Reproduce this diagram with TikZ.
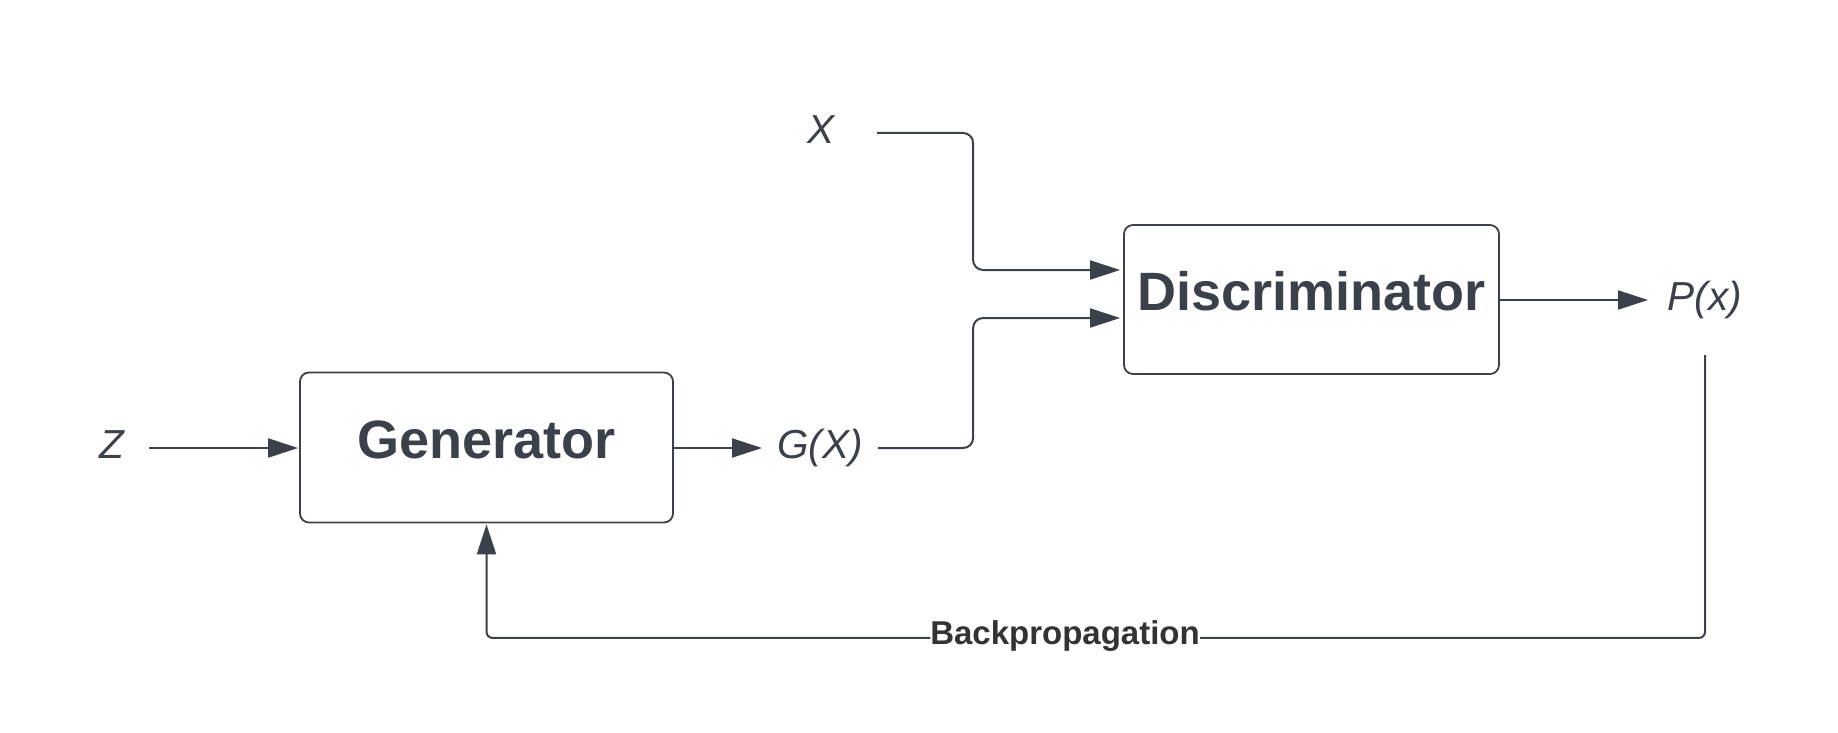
\documentclass[tikz,border=0pt]{standalone}
\usepackage{fontspec}
\setmainfont{Liberation Sans}
\usetikzlibrary{arrows.meta}
\definecolor{ink}{HTML}{3A414A}
\definecolor{bptext}{HTML}{333333}
\begin{document}
\begin{tikzpicture}[x=1pt,y=-1pt,
  box/.style={draw=ink, line width=1.8pt, rounded corners=9pt, rectangle, inner sep=0pt, text=ink,
    font=\fontsize{54}{60}\selectfont\bfseries, text height=22pt, text depth=0pt},
  var/.style={text=ink, font=\fontsize{40.5}{46}\selectfont\itshape, inner sep=0pt, anchor=base},
  conn/.style={draw=ink, line width=2pt, -{Triangle[length=30pt,width=19pt]}},
  bplabel/.style={fill=white, text=bptext, font=\fontsize{33}{38}\selectfont\bfseries,
    inner xsep=0pt, inner ysep=1pt, anchor=base, yshift=-7pt},
]
\useasboundingbox (0,0) rectangle (1838,733);
\fill[white] (0,0) rectangle (1838,733);

\node[box, minimum width=373pt, minimum height=150pt] (gen) at (486.5,447.5) {Generator};
\node[box, minimum width=375pt, minimum height=149pt] (disc) at (1311.5,299.5) {Discriminator};

\node[var] (z) at (112,458) {Z};
\node[var] (gx) at (820,458) {G(X)};
\node[var] (x) at (821,143) {X};
\node[var] (px) at (1705,310) {P(x)};

\coordinate (zout) at (149,448);
\coordinate (gxin) at (762,448);
\coordinate (gxout) at (878,448);
\coordinate (xout) at (877,133);
\coordinate (pxin) at (1648,300);
\coordinate (pxout) at (1705,355);

\draw[conn, shorten >=1pt] (zout) -- (zout -| gen.west);
\draw[conn] (gen.east |- gxin) -- (gxin);
\draw[conn] (disc.east |- pxin) -- (pxin);

\draw[conn, rounded corners=10pt, shorten >=3pt] (xout) -| ([xshift=-150pt,yshift=29.5pt]disc.west) -- ([yshift=29.5pt]disc.west);
\draw[conn, rounded corners=10pt, shorten >=3pt] (gxout) -| ([xshift=-150pt,yshift=-18.5pt]disc.west) -- ([yshift=-18.5pt]disc.west);

\draw[conn, rounded corners=6pt, shorten >=1pt] (pxout) |- node[bplabel, pos=0.7626] (bp) {Backpropagation} ([yshift=-114.5pt]gen.south) -- (gen.south);
\end{tikzpicture}
\end{document}
